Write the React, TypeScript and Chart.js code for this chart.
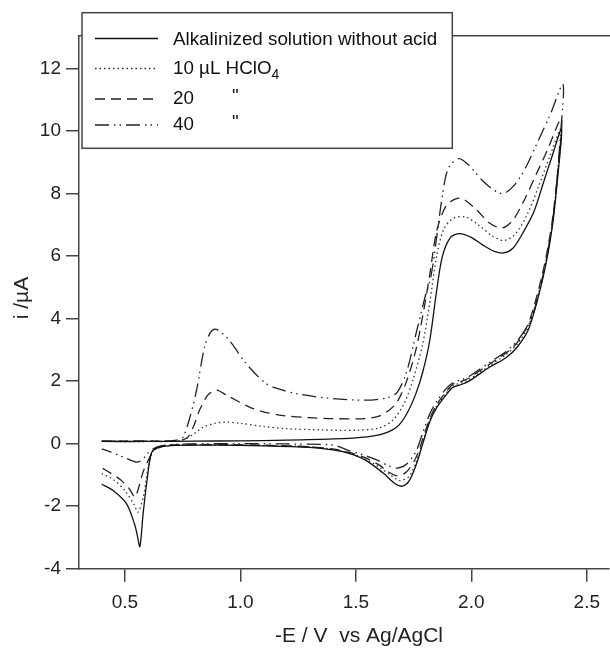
import React, { useEffect, useRef } from 'react';
import { Chart, registerables } from 'chart.js';

Chart.register(...registerables);

// ---- data ----
const X_TICKS = [0.5, 1.0, 1.5, 2.0, 2.5];
const Y_TICKS = [-4, -2, 0, 2, 4, 6, 8, 10, 12];

const LABELS = ['Alkalinized solution without acid', '10 µL HClO4', '20 "', '40 "'];

// no acid (solid) – forward scan then reverse scan
const E_NOACID = [
  0.40, 0.60, 0.80, 1.00, 1.20, 1.40, 1.55, 1.62, 1.68, 1.72, 1.76, 1.79, 1.82, 1.85, 1.875, 1.91, 1.95, 2.00, 2.05, 2.10, 2.14, 2.18, 2.22, 2.27, 2.31, 2.35, 2.39,
  2.375, 2.35, 2.31, 2.25, 2.20, 2.15, 2.08, 2.03, 1.99, 1.96, 1.92, 1.89, 1.85, 1.82, 1.79, 1.76, 1.73, 1.70, 1.67, 1.62, 1.54, 1.47, 1.40, 1.30, 1.10, 0.90, 0.70, 0.64, 0.615, 0.596, 0.579, 0.565, 0.553, 0.543, 0.507, 0.449, 0.40,
];
const I_NOACID = [
  0.07, 0.07, 0.08, 0.09, 0.11, 0.15, 0.22, 0.32, 0.55, 0.95, 1.6, 2.3, 3.3, 4.9, 6.0, 6.6, 6.72, 6.6, 6.35, 6.15, 6.1, 6.25, 6.7, 7.4, 8.3, 9.2, 10.05,
  8.6, 6.9, 5.3, 3.7, 3.1, 2.75, 2.45, 2.2, 2.0, 1.9, 1.8, 1.55, 1.15, 0.7, 0.0, -0.7, -1.2, -1.36, -1.28, -0.95, -0.52, -0.31, -0.2, -0.12, -0.07, -0.05, -0.06, -0.14, -0.3, -1.17, -2.24, -3.29, -2.9, -2.6, -1.92, -1.5, -1.3,
];

// 10 µL HClO4 (dotted)
const E_10 = [
  0.40, 0.60, 0.72, 0.76, 0.80, 0.84, 0.89, 0.94, 1.00, 1.10, 1.20, 1.35, 1.50, 1.60, 1.66, 1.71, 1.75, 1.79, 1.82, 1.85, 1.88, 1.92, 1.975, 2.03, 2.09, 2.14, 2.19, 2.24, 2.29, 2.34, 2.39,
  2.375, 2.35, 2.31, 2.25, 2.20, 2.15, 2.08, 2.03, 1.99, 1.96, 1.92, 1.89, 1.85, 1.82, 1.79, 1.76, 1.73, 1.69, 1.65, 1.60, 1.54, 1.47, 1.40, 1.30, 1.10, 0.90, 0.70, 0.64, 0.62, 0.60, 0.58, 0.557, 0.54, 0.50, 0.45, 0.40,
];
const I_10 = [
  0.07, 0.07, 0.08, 0.15, 0.32, 0.53, 0.65, 0.69, 0.65, 0.55, 0.48, 0.44, 0.43, 0.5, 0.75, 1.3, 2.1, 3.2, 4.5, 6.0, 6.85, 7.2, 7.25, 7.0, 6.65, 6.5, 6.7, 7.3, 8.2, 9.2, 10.1,
  8.7, 7.0, 5.4, 3.8, 3.2, 2.85, 2.5, 2.25, 2.05, 1.95, 1.85, 1.6, 1.2, 0.75, 0.05, -0.6, -1.05, -1.18, -1.0, -0.75, -0.48, -0.3, -0.18, -0.1, -0.06, -0.04, -0.05, -0.12, -0.25, -0.8, -1.7, -2.19, -1.95, -1.5, -1.15, -0.96,
];

// 20 µL (dashed)
const E_20 = [
  0.40, 0.60, 0.72, 0.75, 0.773, 0.80, 0.823, 0.859, 0.896, 0.94, 1.04, 1.10, 1.184, 1.30, 1.40, 1.54, 1.60, 1.644, 1.68, 1.72, 1.76, 1.79, 1.82, 1.85, 1.89, 1.93, 1.961, 2.02, 2.08, 2.134, 2.18, 2.23, 2.28, 2.33, 2.39,
  2.375, 2.35, 2.31, 2.25, 2.20, 2.15, 2.08, 2.03, 1.99, 1.96, 1.92, 1.89, 1.85, 1.82, 1.79, 1.76, 1.72, 1.68, 1.64, 1.60, 1.54, 1.47, 1.40, 1.30, 1.10, 0.90, 0.70, 0.64, 0.62, 0.60, 0.579, 0.56, 0.543, 0.52, 0.48, 0.44, 0.40,
];
const I_20 = [
  0.08, 0.08, 0.09, 0.12, 0.21, 0.6, 1.07, 1.55, 1.71, 1.55, 1.17, 1.02, 0.9, 0.83, 0.8, 0.8, 0.88, 1.07, 1.35, 2.0, 3.0, 4.1, 5.4, 6.8, 7.6, 7.82, 7.84, 7.5, 7.05, 6.9, 7.15, 7.8, 8.6, 9.4, 10.4,
  8.8, 7.1, 5.5, 3.9, 3.25, 2.9, 2.55, 2.3, 2.1, 2.0, 1.9, 1.65, 1.25, 0.8, 0.15, -0.45, -0.9, -1.03, -0.9, -0.68, -0.45, -0.28, -0.17, -0.1, -0.05, -0.03, -0.04, -0.12, -0.26, -0.55, -0.9, -1.4, -1.71, -1.45, -1.15, -0.95, -0.77,
];

// 40 µL (dash-dot-dot)
const E_40 = [
  0.40, 0.60, 0.70, 0.73, 0.752, 0.78, 0.81, 0.845, 0.87, 0.888, 0.91, 0.953, 1.025, 1.112, 1.18, 1.256, 1.40, 1.54, 1.60, 1.644, 1.68, 1.72, 1.76, 1.80, 1.824, 1.85, 1.874, 1.90, 1.946, 1.99, 2.05, 2.10, 2.14, 2.19, 2.24, 2.29, 2.34, 2.397,
  2.385, 2.36, 2.32, 2.26, 2.20, 2.15, 2.08, 2.03, 1.99, 1.96, 1.92, 1.89, 1.85, 1.82, 1.79, 1.76, 1.72, 1.68, 1.64, 1.60, 1.54, 1.47, 1.42, 1.38, 1.20, 1.00, 0.80, 0.70, 0.64, 0.60, 0.575, 0.55, 0.50, 0.45, 0.40,
];
const I_40 = [
  0.08, 0.08, 0.09, 0.12, 0.21, 0.8, 1.7, 3.09, 3.55, 3.66, 3.6, 3.3, 2.56, 1.92, 1.72, 1.58, 1.44, 1.39, 1.42, 1.49, 1.65, 2.3, 3.5, 4.7, 5.3, 6.6, 7.9, 8.8, 9.12, 8.9, 8.4, 8.1, 8.0, 8.3, 8.9, 9.7, 10.5, 11.5,
  9.8, 7.6, 5.7, 4.0, 3.3, 2.95, 2.6, 2.35, 2.15, 2.05, 1.95, 1.75, 1.35, 0.95, 0.35, -0.25, -0.65, -0.78, -0.7, -0.55, -0.38, -0.22, -0.08, -0.03, -0.01, 0.0, -0.01, -0.03, -0.1, -0.3, -0.52, -0.59, -0.45, -0.3, -0.17,
];

const X_MIN = 0.3014;
const X_MAX = 2.594;
const Y_MIN = -4;
const Y_MAX = 13.05;

const FONT = "'Liberation Sans', Arial, sans-serif";
const DASHES: number[][] = [[], [1.5, 3], [10, 6], [14, 5, 1.5, 4, 1.5, 5]];
const COLORS = ['#111', '#333', '#222', '#222'];

function zip(xs: number[], ys: number[]) {
  return xs.map((x, i) => ({ x, y: ys[i] }));
}

const framePlugin = {
  id: 'frameAndLegend',
  afterDraw(chart: any) {
    const { ctx, chartArea } = chart;
    ctx.save();
    // top frame line
    ctx.strokeStyle = '#444';
    ctx.lineWidth = 1.5;
    ctx.beginPath();
    ctx.moveTo(chartArea.left, chartArea.top);
    ctx.lineTo(chartArea.right + 2, chartArea.top);
    ctx.stroke();

    // axis titles
    ctx.fillStyle = '#222';
    ctx.font = `21px ${FONT}`;
    ctx.textAlign = 'center';
    ctx.textBaseline = 'middle';
    ctx.fillText('-E / V  vs Ag/AgCl', 359, 636);
    ctx.save();
    ctx.translate(22, 298);
    ctx.rotate(-Math.PI / 2);
    ctx.fillText('i /µA', 0, 0);
    ctx.restore();

    // legend box
    const bx = 82, by = 12.7, bw = 452.3 - 82, bh = 148.3 - 12.7;
    ctx.fillStyle = '#fff';
    ctx.fillRect(bx, by, bw, bh);
    ctx.strokeStyle = '#444';
    ctx.lineWidth = 1.5;
    ctx.strokeRect(bx, by, bw, bh);

    const rows = [38.5, 68.5, 99, 125];
    rows.forEach((ry, k) => {
      ctx.save();
      ctx.strokeStyle = COLORS[k];
      ctx.lineWidth = 1.3;
      ctx.setLineDash(DASHES[k]);
      ctx.beginPath();
      ctx.moveTo(95, ry);
      ctx.lineTo(158, ry);
      ctx.stroke();
      ctx.restore();
    });
    ctx.fillStyle = '#111';
    ctx.textAlign = 'left';
    ctx.textBaseline = 'middle';
    ctx.font = `18.8px ${FONT}`;
    ctx.fillText(LABELS[0], 173, rows[0] + 1);
    const l1 = '10 µL HClO';
    ctx.fillText(l1, 173, rows[1]);
    const w1 = ctx.measureText(l1).width;
    ctx.font = `14px ${FONT}`;
    ctx.fillText('4', 173 + w1, rows[1] + 7);
    ctx.font = `18.8px ${FONT}`;
    ctx.fillText('20', 173, rows[2]);
    ctx.fillText('"', 232, rows[2] - 2);
    ctx.fillText('40', 173, rows[3]);
    ctx.fillText('"', 232, rows[3] - 2);
    ctx.restore();
  },
};

export default function App() {
  const ref = useRef<HTMLCanvasElement | null>(null);

  useEffect(() => {
    if (!ref.current) return;
    const series = [
      zip(E_NOACID, I_NOACID),
      zip(E_10, I_10),
      zip(E_20, I_20),
      zip(E_40, I_40),
    ];
    const chart = new Chart(ref.current, {
      type: 'line',
      data: {
        datasets: series.map((d, k) => ({
          label: LABELS[k],
          data: d,
          borderColor: COLORS[k],
          borderWidth: 1.3,
          borderDash: DASHES[k],
          pointRadius: 0,
          tension: 0.3,
          fill: false,
        })),
      },
      options: {
        animation: false,
        responsive: false,
        maintainAspectRatio: false,
        layout: { padding: { top: 35.7, right: 0, left: 0, bottom: 0 } },
        plugins: { legend: { display: false }, tooltip: { enabled: false } },
        scales: {
          x: {
            type: 'linear',
            min: X_MIN,
            max: X_MAX,
            afterBuildTicks: (s: any) => {
              s.ticks = X_TICKS.map((v) => ({ value: v }));
            },
            afterFit: (s: any) => {
              s.height = 648 - 568.7;
            },
            ticks: {
              autoSkip: false,
              maxRotation: 0,
              padding: 10,
              color: '#222',
              font: { family: FONT, size: 19 },
              callback: (v: any) => Number(v).toFixed(1),
            },
            grid: { drawOnChartArea: false, drawTicks: true, tickLength: 13, color: '#444', lineWidth: 1.5 },
            border: { display: true, color: '#444', width: 1.5 },
          },
          y: {
            type: 'linear',
            min: Y_MIN,
            max: Y_MAX,
            afterBuildTicks: (s: any) => {
              s.ticks = Y_TICKS.map((v) => ({ value: v }));
            },
            afterFit: (s: any) => {
              s.width = 79;
            },
            ticks: {
              autoSkip: false,
              padding: 5,
              color: '#222',
              font: { family: FONT, size: 19 },
              callback: (v: any) => String(v),
            },
            grid: { drawOnChartArea: false, drawTicks: true, tickLength: 13, color: '#444', lineWidth: 1.5 },
            border: { display: true, color: '#444', width: 1.5 },
          },
        },
      },
      plugins: [framePlugin],
    });
    return () => chart.destroy();
  }, []);

  return (
    <div style={{ position: 'fixed', left: 0, top: 0, width: 610, height: 648, background: '#fff' }}>
      <canvas ref={ref} width={610} height={648} style={{ display: 'block' }} />
    </div>
  );
}
